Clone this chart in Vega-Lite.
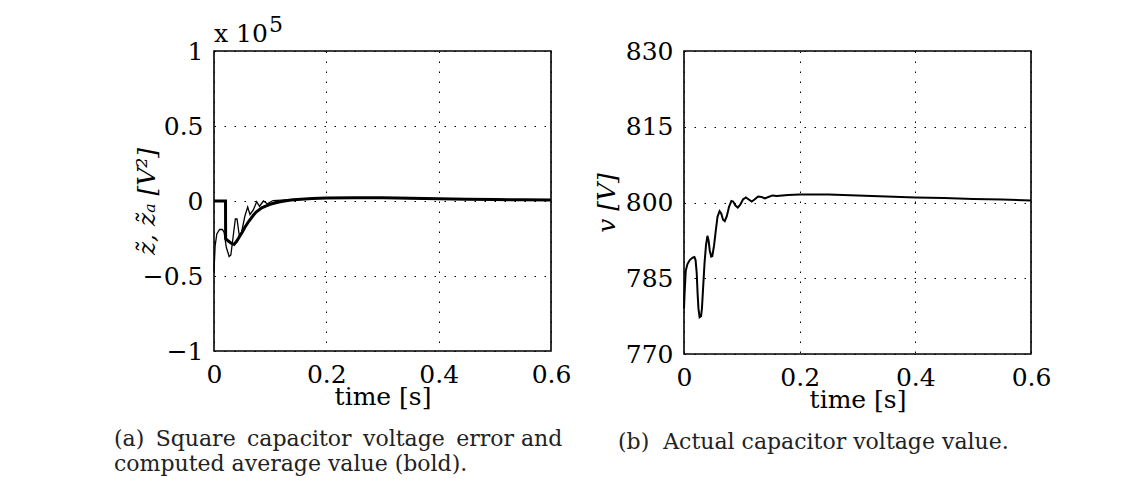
{
  "$schema": "https://vega.github.io/schema/vega-lite/v6.json",
  "autosize": {"type": "pad"},
  "padding": {"left": 113, "top": 13, "right": 100, "bottom": 10},
  "background": "white",
  "config": {
    "view": {"stroke": "black", "strokeWidth": 1.6},
    "axis": {
      "labelFont": "DejaVu Serif", "labelFontSize": 25, "labelColor": "black",
      "titleFont": "DejaVu Serif", "titleFontSize": 25, "titleFontWeight": "normal", "titleColor": "black",
      "domain": false, "ticks": false, "grid": true, "gridColor": "black", "gridDash": [1.5, 8.5], "gridWidth": 1,
      "labelFlush": false, "labelOverlap": false, "labelBound": false
    },
    "line": {"color": "black"}
  },
  "datasets": {
    "za": [
      {"t": 0, "z": 0}, {"t": 0.0205, "z": 0}, {"t": 0.0207, "z": -0.25}, {"t": 0.025, "z": -0.265},
      {"t": 0.03, "z": -0.28}, {"t": 0.0356, "z": -0.29}, {"t": 0.04, "z": -0.27}, {"t": 0.045, "z": -0.24},
      {"t": 0.05, "z": -0.21}, {"t": 0.055, "z": -0.175}, {"t": 0.062, "z": -0.135}, {"t": 0.07, "z": -0.095},
      {"t": 0.075, "z": -0.074}, {"t": 0.085, "z": -0.045}, {"t": 0.093, "z": -0.032}, {"t": 0.1, "z": -0.022},
      {"t": 0.11, "z": -0.012}, {"t": 0.12, "z": -0.004}, {"t": 0.137, "z": 0.006}, {"t": 0.155, "z": 0.012},
      {"t": 0.175, "z": 0.017}, {"t": 0.2, "z": 0.02}, {"t": 0.25, "z": 0.022}, {"t": 0.3, "z": 0.021},
      {"t": 0.35, "z": 0.018}, {"t": 0.4, "z": 0.015}, {"t": 0.45, "z": 0.012}, {"t": 0.5, "z": 0.01},
      {"t": 0.55, "z": 0.008}, {"t": 0.6, "z": 0.006}
    ],
    "z": [
      {"t": 0, "z": -0.47}, {"t": 0.002, "z": -0.3}, {"t": 0.005, "z": -0.22}, {"t": 0.01, "z": -0.19},
      {"t": 0.015, "z": -0.19}, {"t": 0.018, "z": -0.21}, {"t": 0.022, "z": -0.31}, {"t": 0.027, "z": -0.37},
      {"t": 0.03, "z": -0.36}, {"t": 0.034, "z": -0.24}, {"t": 0.038, "z": -0.12}, {"t": 0.041, "z": -0.12},
      {"t": 0.045, "z": -0.23}, {"t": 0.049, "z": -0.21}, {"t": 0.055, "z": -0.1}, {"t": 0.06, "z": -0.04},
      {"t": 0.064, "z": -0.09}, {"t": 0.07, "z": -0.06}, {"t": 0.076, "z": -0.005}, {"t": 0.081, "z": -0.035},
      {"t": 0.088, "z": -0.0}, {"t": 0.095, "z": -0.018}, {"t": 0.105, "z": 0.003}, {"t": 0.12, "z": 0.006},
      {"t": 0.15, "z": 0.012}, {"t": 0.2, "z": 0.02}, {"t": 0.3, "z": 0.02}, {"t": 0.4, "z": 0.015},
      {"t": 0.5, "z": 0.01}, {"t": 0.6, "z": 0.005}
    ],
    "v": [
      {"t": 0, "v": 779}, {"t": 0.001, "v": 782}, {"t": 0.003, "v": 786.5}, {"t": 0.006, "v": 787.8},
      {"t": 0.01, "v": 788.6}, {"t": 0.015, "v": 789.1}, {"t": 0.018, "v": 789.2}, {"t": 0.02, "v": 788.6},
      {"t": 0.022, "v": 786}, {"t": 0.0235, "v": 782}, {"t": 0.025, "v": 779}, {"t": 0.027, "v": 777.3},
      {"t": 0.0295, "v": 777.5}, {"t": 0.031, "v": 779}, {"t": 0.033, "v": 783}, {"t": 0.0355, "v": 788},
      {"t": 0.038, "v": 791.5}, {"t": 0.0405, "v": 793.4}, {"t": 0.0425, "v": 792.5}, {"t": 0.0445, "v": 790.5},
      {"t": 0.047, "v": 789.3}, {"t": 0.049, "v": 789.4}, {"t": 0.052, "v": 791.5}, {"t": 0.055, "v": 794.5},
      {"t": 0.058, "v": 797.2}, {"t": 0.0615, "v": 798.3}, {"t": 0.0645, "v": 797.8}, {"t": 0.0675, "v": 796.6},
      {"t": 0.0705, "v": 796.3}, {"t": 0.074, "v": 797.3}, {"t": 0.078, "v": 799.2}, {"t": 0.082, "v": 800.3},
      {"t": 0.085, "v": 800.2}, {"t": 0.089, "v": 799.4}, {"t": 0.093, "v": 799.0}, {"t": 0.097, "v": 799.5},
      {"t": 0.102, "v": 800.6}, {"t": 0.107, "v": 801.0}, {"t": 0.112, "v": 800.6}, {"t": 0.117, "v": 800.2},
      {"t": 0.122, "v": 800.6}, {"t": 0.128, "v": 801.2}, {"t": 0.134, "v": 801.1}, {"t": 0.14, "v": 800.8},
      {"t": 0.146, "v": 801.1}, {"t": 0.153, "v": 801.4}, {"t": 0.16, "v": 801.3}, {"t": 0.17, "v": 801.4},
      {"t": 0.18, "v": 801.5}, {"t": 0.2, "v": 801.6}, {"t": 0.25, "v": 801.6}, {"t": 0.3, "v": 801.4},
      {"t": 0.35, "v": 801.2}, {"t": 0.4, "v": 801.0}, {"t": 0.45, "v": 800.9}, {"t": 0.5, "v": 800.7},
      {"t": 0.55, "v": 800.6}, {"t": 0.6, "v": 800.4}
    ]
  },
  "spacing": 133,
  "bounds": "flush",
  "hconcat": [
    {
      "width": 337,
      "height": 300,
      "title": {
        "text": ["(a)\u2009 Square\u2009 capacitor\u2009 voltage\u2009 error and", "computed average value (bold)."],
        "orient": "bottom", "anchor": "start", "frame": "group", "dx": -100, "offset": 20,
        "font": "DejaVu Serif", "fontSize": 22, "fontWeight": "normal", "color": "#222", "lineHeight": 25
      },
      "layer": [
        {
          "data": {"name": "z"},
          "mark": {"type": "line", "strokeWidth": 1.3},
          "encoding": {
            "x": {"field": "t", "type": "quantitative", "scale": {"domain": [0, 0.6], "nice": false},
                  "axis": {"values": [0, 0.2, 0.4, 0.6], "format": "~g", "title": "time [s]", "titlePadding": -3, "labelPadding": 11}},
            "y": {"field": "z", "type": "quantitative", "scale": {"domain": [-1, 1], "nice": false},
                  "axis": {"values": [-1, -0.5, 0, 0.5, 1], "format": "~g", "title": "z̃, z̃ₐ [V²]", "titleFontStyle": "italic", "labelPadding": 11, "titlePadding": -17}}
          }
        },
        {
          "data": {"name": "za"},
          "mark": {"type": "line", "strokeWidth": 3},
          "encoding": {
            "x": {"field": "t", "type": "quantitative"},
            "y": {"field": "z", "type": "quantitative"}
          }
        },
        {
          "data": {"values": [{"t": 0, "z": 1, "label": "x 10", "sup": "5"}]},
          "layer": [
            {
              "mark": {"type": "text", "align": "left", "baseline": "alphabetic", "dy": -9, "font": "DejaVu Serif", "fontSize": 25, "color": "black"},
              "encoding": {
                "x": {"field": "t", "type": "quantitative"},
                "y": {"field": "z", "type": "quantitative"},
                "text": {"field": "label"}
              }
            },
            {
              "mark": {"type": "text", "align": "left", "baseline": "alphabetic", "dx": 55, "dy": -19, "font": "DejaVu Serif", "fontSize": 22, "color": "black"},
              "encoding": {
                "x": {"field": "t", "type": "quantitative"},
                "y": {"field": "z", "type": "quantitative"},
                "text": {"field": "sup"}
              }
            }
          ]
        }
      ]
    },
    {
      "width": 347,
      "height": 303,
      "title": {
        "text": "(b)\u00a0 Actual capacitor voltage value.",
        "orient": "bottom", "anchor": "start", "frame": "group", "dx": -66, "offset": 20,
        "font": "DejaVu Serif", "fontSize": 22, "fontWeight": "normal", "color": "#222"
      },
      "data": {"name": "v"},
      "mark": {"type": "line", "strokeWidth": 2},
      "encoding": {
        "x": {"field": "t", "type": "quantitative", "scale": {"domain": [0, 0.6], "nice": false},
              "axis": {"values": [0, 0.2, 0.4, 0.6], "format": "~g", "title": "time [s]", "titlePadding": -3, "labelPadding": 11}},
        "y": {"field": "v", "type": "quantitative", "scale": {"domain": [770, 830], "nice": false, "zero": false},
              "axis": {"values": [770, 785, 800, 815, 830], "title": "v [V]", "titleFontStyle": "italic", "labelPadding": 11, "titlePadding": 6}}
      }
    }
  ]
}
